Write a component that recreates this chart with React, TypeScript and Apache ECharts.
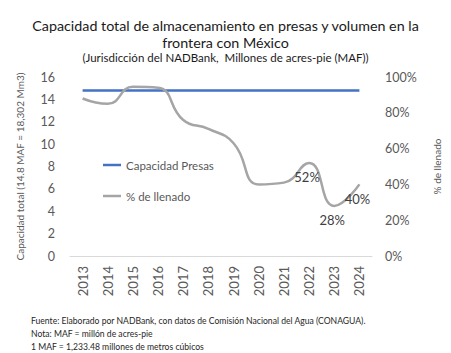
import React, { useEffect, useRef } from "react";
import * as echarts from "echarts";

const years = ["2013", "2014", "2015", "2016", "2017", "2018", "2019", "2020", "2021", "2022", "2023", "2024"];
const capacidad = [14.8, 14.8, 14.8, 14.8, 14.8, 14.8, 14.8, 14.8, 14.8, 14.8, 14.8, 14.8];
const llenado = [88, 85, 94.5, 94, 76, 71, 63, 40, 41, 52, 28, 40];
const labeledYears = ["2022", "2023", "2024"];

const FONT = "Lato";

export default function App() {
  const ref = useRef<HTMLDivElement>(null);
  useEffect(() => {
    if (!ref.current) return;
    const chart = echarts.init(ref.current, undefined, { renderer: "svg" });
    chart.setOption({
      animation: false,
      backgroundColor: "#ffffff",
      textStyle: { fontFamily: FONT },
      title: [
        {
          text: "Capacidad total de almacenamiento en presas y volumen en la\nfrontera con México",
          left: "center",
          top: 12,
          textStyle: { fontFamily: FONT, fontSize: 14.3, fontWeight: "normal", color: "#1a1a1a", lineHeight: 17, align: "center" },
        },
        {
          text: "(Jurisdicción del NADBank,  Millones de acres-pie (MAF))",
          left: "center",
          top: 46,
          textStyle: { fontFamily: FONT, fontSize: 11.5, fontWeight: "normal", color: "#1a1a1a" },
        },
        {
          text: "Fuente: Elaborado por NADBank, con datos de Comisión Nacional del Agua (CONAGUA).\nNota: MAF = millón de acres-pie\n1 MAF = 1,233.48 millones de metros cúbicos",
          left: 26,
          top: 310,
          textStyle: { fontFamily: FONT, fontSize: 8.6, fontWeight: "normal", color: "#262626", lineHeight: 12.7 },
        },
      ],
      legend: {
        orient: "vertical",
        left: 98,
        top: 154,
        itemGap: 19,
        itemWidth: 18,
        itemHeight: 2.5,
        icon: "rect",
        textStyle: { fontFamily: FONT, fontSize: 11.5, color: "#595959" },
        data: ["Capacidad Presas", "% de llenado"],
      },
      grid: { left: 70, right: 79, top: 77, bottom: 97 },
      xAxis: {
        type: "category",
        data: years,
        boundaryGap: true,
        axisLine: { lineStyle: { color: "#d9d9d9", width: 1 } },
        axisTick: { show: false },
        axisLabel: { rotate: 90, margin: 10, fontSize: 13, color: "#595959", fontFamily: FONT },
      },
      yAxis: [
        {
          type: "value",
          min: 0,
          max: 16,
          interval: 2,
          splitLine: { show: false },
          axisLine: { show: false },
          axisTick: { show: false },
          axisLabel: { margin: 15, fontSize: 12.5, color: "#595959", fontFamily: FONT },
          name: "Capacidad total (14.8 MAF = 18,302 Mm3)",
          nameLocation: "middle",
          nameRotate: 90,
          nameGap: 45,
          nameTextStyle: { fontSize: 10, color: "#595959", fontFamily: FONT },
        },
        {
          type: "value",
          min: 0,
          max: 100,
          interval: 20,
          splitLine: { show: false },
          axisLine: { show: false },
          axisTick: { show: false },
          axisLabel: { margin: 13, fontSize: 12.5, color: "#595959", fontFamily: FONT, formatter: "{value}%" },
          name: "% de llenado",
          nameLocation: "middle",
          nameRotate: 90,
          nameGap: 60,
          nameTextStyle: { fontSize: 10, color: "#595959", fontFamily: FONT },
        },
      ],
      series: [
        {
          name: "Capacidad Presas",
          type: "line",
          yAxisIndex: 0,
          data: capacidad,
          showSymbol: false,
          symbol: "none",
          lineStyle: { color: "#4472C4", width: 2.5 },
          itemStyle: { color: "#4472C4" },
        },
        {
          name: "% de llenado",
          type: "line",
          yAxisIndex: 1,
          data: llenado.map((v, i) => ({
            value: v,
            label: {
              show: labeledYears.includes(years[i]),
              position: "bottom",
              distance: 8,
              offset: [-2, 0],
              formatter: (p: any) => Math.round(p.value) + "%",
              fontSize: 13,
              color: "#404040",
              fontFamily: FONT,
            },
          })),
          smooth: 0.5,
          showSymbol: true,
          symbol: "circle",
          symbolSize: 0.1,
          lineStyle: { color: "#A5A5A5", width: 2.5 },
          itemStyle: { color: "#A5A5A5" },
        },
      ],
    });
    return () => chart.dispose();
  }, []);
  return <div ref={ref} style={{ width: 451, height: 353, position: "absolute", left: 0, top: 0 }} />;
}
